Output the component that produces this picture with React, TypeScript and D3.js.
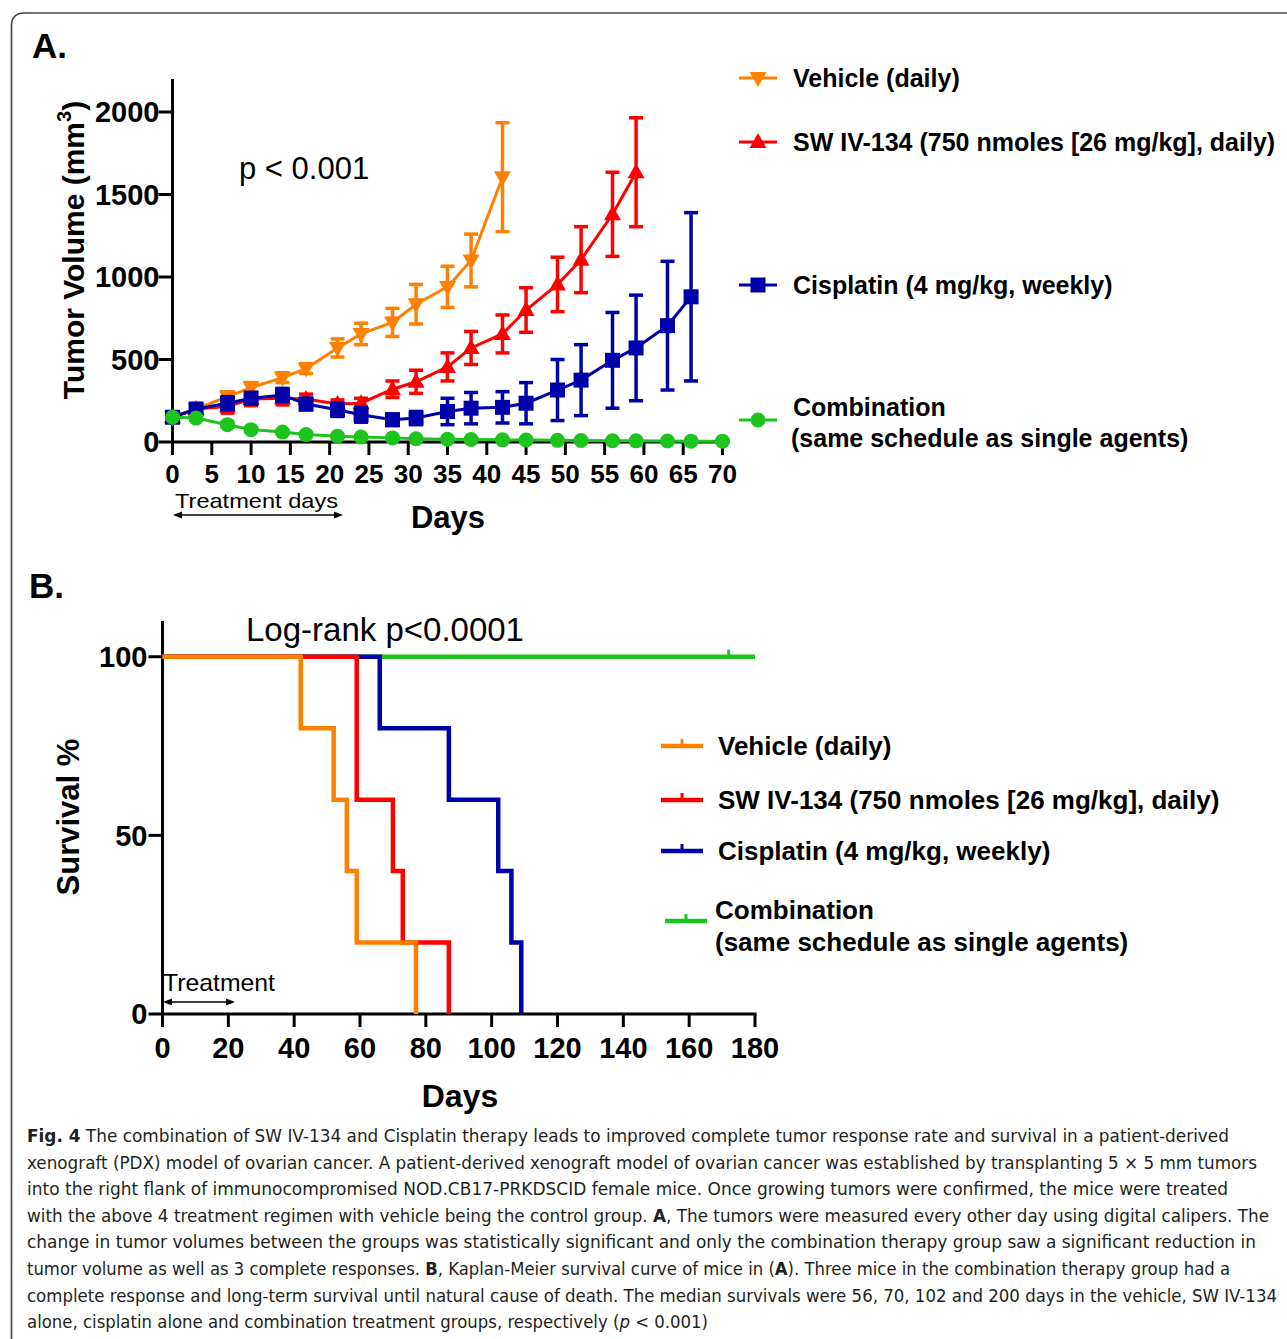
import React from "react";
import * as d3 from "d3";

// ---------- Panel A data ----------
const days = [0, 3, 7, 10, 14, 17, 21, 24, 28, 31, 35, 38, 42, 45, 49, 52, 56, 59, 63, 66, 70];
const vehicleMean = [150, 200, 275, 330, 390, 445, 570, 655, 725, 835, 940, 1100, 1605];
const vehicleErr = [15, 25, 30, 30, 30, 30, 55, 65, 85, 120, 125, 160, 330];
const swMean = [150, 200, 215, 260, 265, 260, 230, 235, 320, 365, 455, 570, 655, 800, 955, 1105, 1380, 1635];
const swErr = [15, 20, 40, 40, 40, 30, 25, 30, 50, 70, 85, 100, 115, 135, 165, 200, 255, 330];
const cisMean = [150, 200, 235, 265, 285, 230, 195, 165, 135, 145, 185, 205, 210, 235, 315, 375, 495, 570, 705, 880];
const cisErr = [15, 25, 40, 35, 40, 35, 40, 45, 35, 40, 80, 95, 95, 125, 185, 215, 290, 320, 390, 510];
const comboMean = [150, 145, 105, 75, 60, 45, 35, 30, 25, 20, 17, 15, 13, 12, 10, 9, 8, 7, 6, 5, 5];
const comboErr = [10, 12, 15, 12, 10, 8, 6, 5, 5, 4, 4, 3, 3, 3, 2, 2, 2, 2, 2, 2, 2];
const xTicksA = [0, 5, 10, 15, 20, 25, 30, 35, 40, 45, 50, 55, 60, 65, 70];
const yTicksA = [0, 500, 1000, 1500, 2000];

// ---------- Panel B data ----------
const vehSurvT = [0, 42, 52, 56, 59, 77];
const vehSurvS = [100, 80, 60, 40, 20, 0];
const swSurvT = [0, 59, 70, 73, 87];
const swSurvS = [100, 60, 40, 20, 0];
const cisSurvT = [0, 66, 87, 102, 106, 109];
const cisSurvS = [100, 80, 60, 40, 20, 0];
const comboSurvT = [0, 180];
const comboSurvS = [100, 100];
const comboCensor = [172];
const xTicksB = [0, 20, 40, 60, 80, 100, 120, 140, 160, 180];
const yTicksB = [0, 50, 100];

const seriesNames = [
  "Vehicle (daily)",
  "SW IV-134 (750 nmoles [26 mg/kg], daily)",
  "Cisplatin (4 mg/kg, weekly)",
  "Combination",
];
const comboSub = "(same schedule as single agents)";

const ORANGE = "#FF8000";
const RED = "#FF0000";
const BLUE = "#0000AA";
const GREEN = "#1DC41D";

type Seg = [string, string?];
const captionLines: Seg[][] = [
  [["Fig. 4", "b"], ["  The combination of SW IV-134 and Cisplatin therapy leads to improved complete tumor response rate and survival in a patient-derived"]],
  [["xenograft (PDX) model of ovarian cancer. A patient-derived xenograft model of ovarian cancer was established by transplanting 5 × 5 mm tumors"]],
  [["into the right flank of immunocompromised NOD.CB17-PRKDSCID female mice. Once growing tumors were confirmed, the mice were treated"]],
  [["with the above 4 treatment regimen with vehicle being the control group. "], ["A", "b"], [", The tumors were measured every other day using digital calipers. The"]],
  [["change in tumor volumes between the groups was statistically significant and only the combination therapy group saw a significant reduction in"]],
  [["tumor volume as well as 3 complete responses. "], ["B", "b"], [", Kaplan-Meier survival curve of mice in ("], ["A", "b"], ["). Three mice in the combination therapy group had a"]],
  [["complete response and long-term survival until natural cause of death. The median survivals were 56, 70, 102 and 200 days in the vehicle, SW IV-134"]],
  [["alone, cisplatin alone and combination treatment groups, respectively ("], ["p", "i"], [" < 0.001)"]],
];
const captionWidths = [1202, 1230, 1201, 1242, 1229, 1203, 1250, 681];

const FONT = "'Liberation Sans', Arial, Helvetica, sans-serif";

function marker(shape: string, cx: number, cy: number, color: string, key?: string) {
  if (shape === "down") {
    return <path key={key} d={`M${cx - 8.5},${cy - 6} L${cx + 8.5},${cy - 6} L${cx},${cy + 9} Z`} fill={color} />;
  }
  if (shape === "up") {
    return <path key={key} d={`M${cx - 8.5},${cy + 6} L${cx + 8.5},${cy + 6} L${cx},${cy - 9} Z`} fill={color} />;
  }
  if (shape === "square") {
    return <rect key={key} x={cx - 7.5} y={cy - 7.5} width={15} height={15} fill={color} />;
  }
  return <circle key={key} cx={cx} cy={cy} r={7.5} fill={color} />;
}

export default function App() {
  // Panel A scales
  const xA = d3.scaleLinear().domain([0, 70]).range([172.5, 722.5]);
  const yA = d3.scaleLinear().domain([0, 2200]).range([442, 79]);
  // Panel B scales
  const xB = d3.scaleLinear().domain([0, 180]).range([162.5, 755]);
  const yB = d3.scaleLinear().domain([0, 110]).range([1014, 621]);

  const seriesA = [
    { mean: vehicleMean, err: vehicleErr, color: ORANGE, shape: "down" },
    { mean: swMean, err: swErr, color: RED, shape: "up" },
    { mean: cisMean, err: cisErr, color: BLUE, shape: "square" },
    { mean: comboMean, err: comboErr, color: GREEN, shape: "circle" },
  ];

  const lineA = d3
    .line<[number, number]>()
    .x((d) => xA(d[0]))
    .y((d) => yA(d[1]));

  const lineB = d3
    .line<[number, number]>()
    .x((d) => xB(d[0]))
    .y((d) => yB(d[1]))
    .curve(d3.curveStepAfter);

  const seriesB = [
    { t: comboSurvT, s: comboSurvS, color: GREEN },
    { t: cisSurvT, s: cisSurvS, color: BLUE },
    { t: swSurvT, s: swSurvS, color: RED },
    { t: vehSurvT, s: vehSurvS, color: ORANGE },
  ];

  const legendAY = [78, 142, 285, 420];
  const legendATextY = [78, 142, 285, 407];
  const legendBY = [746, 800, 851, 921];
  const legendBTextY = [746, 800, 851, 910];
  const legendColors = [ORANGE, RED, BLUE, GREEN];
  const legendShapes = ["down", "up", "square", "circle"];

  const arrowHead = (x: number, y: number, dir: number) =>
    `M${x},${y} L${x - dir * 9},${y - 3.5} L${x - dir * 9},${y + 3.5} Z`;

  return (
    <svg
      width={1287}
      height={1339}
      style={{ position: "absolute", left: 0, top: 0, display: "block", background: "#fff" }}
      fontFamily={FONT}
    >
      <rect x={0} y={0} width={1287} height={1339} fill="#fff" />
      {/* frame */}
      <path d="M11.5,1345 L11.5,26 Q11.5,13 24.5,13 L1300,13" fill="none" stroke="#444" strokeWidth={1.6} />

      {/* ================= Panel A ================= */}
      <text x={32} y={58} fontSize={35} fontWeight="bold">A.</text>

      {/* axes */}
      <line x1={xA(0)} y1={yA(2200)} x2={xA(0)} y2={yA(0) + 1.5} stroke="#000" strokeWidth={3} />
      <line x1={xA(0) - 1.5} y1={yA(0)} x2={xA(70) + 2} y2={yA(0)} stroke="#000" strokeWidth={3} />
      {yTicksA.map((t) => (
        <g key={"ya" + t}>
          <line x1={xA(0) - 14} x2={xA(0)} y1={yA(t)} y2={yA(t)} stroke="#000" strokeWidth={3} />
          <text x={xA(0) - 13} y={yA(t)} dy="0.36em" textAnchor="end" fontSize={29} fontWeight="bold">
            {t}
          </text>
        </g>
      ))}
      {xTicksA.map((t) => (
        <g key={"xa" + t}>
          <line x1={xA(t)} x2={xA(t)} y1={yA(0)} y2={yA(0) + 13} stroke="#000" strokeWidth={3} />
          <text
            x={xA(t)}
            y={483}
            textAnchor="middle"
            fontSize={26}
            fontWeight="bold"
            textLength={t >= 10 ? 29 : undefined}
            lengthAdjust="spacingAndGlyphs"
          >
            {t}
          </text>
        </g>
      ))}
      <text
        transform="translate(84,250) rotate(-90)"
        textAnchor="middle"
        fontSize={30}
        fontWeight="bold"
      >
        Tumor Volume (mm
        <tspan fontSize={20} dy={-13}>3</tspan>
        <tspan dy={13}>)</tspan>
      </text>
      <text x={448} y={528} textAnchor="middle" fontSize={31} fontWeight="bold">Days</text>
      <text x={239} y={179} fontSize={31}>p &lt; 0.001</text>
      <text x={175} y={508} fontSize={21} textLength={163} lengthAdjust="spacingAndGlyphs">Treatment days</text>
      <line x1={176} x2={340} y1={515} y2={515} stroke="#000" strokeWidth={1.5} />
      <path d={arrowHead(173, 515, -1)} fill="#000" />
      <path d={arrowHead(343, 515, 1)} fill="#000" />

      {/* series lines, error bars, markers */}
      {seriesA.map((s, si) => {
        const pts: [number, number][] = s.mean.map((m, i) => [days[i], m]);
        return (
          <g key={"sa" + si}>
            <path d={lineA(pts) || ""} fill="none" stroke={s.color} strokeWidth={3} />
            {s.mean.map((m, i) => {
              const x = xA(days[i]);
              const y1 = yA(m + s.err[i]);
              const y2 = yA(m - s.err[i]);
              return (
                <g key={i}>
                  <line x1={x} x2={x} y1={y1} y2={y2} stroke={s.color} strokeWidth={3.5} />
                  <line x1={x - 7} x2={x + 7} y1={y1} y2={y1} stroke={s.color} strokeWidth={3.5} />
                  <line x1={x - 7} x2={x + 7} y1={y2} y2={y2} stroke={s.color} strokeWidth={3.5} />
                </g>
              );
            })}
            {s.mean.map((m, i) => marker(s.shape, xA(days[i]), yA(m), s.color, "m" + i))}
          </g>
        );
      })}

      {/* legend A */}
      {seriesNames.map((n, i) => (
        <g key={"la" + i}>
          <line x1={739} x2={777} y1={legendAY[i]} y2={legendAY[i]} stroke={legendColors[i]} strokeWidth={3} />
          {marker(legendShapes[i], 758, legendAY[i], legendColors[i])}
          <text x={793} y={legendATextY[i]} dy="0.36em" fontSize={25} fontWeight="bold">
            {n}
          </text>
        </g>
      ))}
      <text x={791} y={438} dy="0.36em" fontSize={25} fontWeight="bold">{comboSub}</text>

      {/* ================= Panel B ================= */}
      <text x={29} y={598} fontSize={35} fontWeight="bold">B.</text>

      <line x1={xB(0)} y1={621} x2={xB(0)} y2={yB(0) + 1.5} stroke="#000" strokeWidth={3} />
      <line x1={xB(0) - 1.5} y1={yB(0)} x2={xB(180) + 1.5} y2={yB(0)} stroke="#000" strokeWidth={3} />
      {yTicksB.map((t) => (
        <g key={"yb" + t}>
          <line x1={xB(0) - 14} x2={xB(0)} y1={yB(t)} y2={yB(t)} stroke="#000" strokeWidth={3} />
          <text x={xB(0) - 15} y={yB(t)} dy="0.36em" textAnchor="end" fontSize={29} fontWeight="bold">
            {t}
          </text>
        </g>
      ))}
      {xTicksB.map((t) => (
        <g key={"xb" + t}>
          <line x1={xB(t)} x2={xB(t)} y1={yB(0)} y2={yB(0) + 13} stroke="#000" strokeWidth={3} />
          <text x={xB(t)} y={1058} textAnchor="middle" fontSize={29} fontWeight="bold">
            {t}
          </text>
        </g>
      ))}
      <text
        transform="translate(79,817) rotate(-90)"
        textAnchor="middle"
        fontSize={31}
        fontWeight="bold"
      >
        Survival %
      </text>
      <text x={460} y={1107} textAnchor="middle" fontSize={32} fontWeight="bold">Days</text>
      <text x={246} y={641} fontSize={33}>Log-rank p&lt;0.0001</text>
      <text x={163} y={991} fontSize={24} textLength={112} lengthAdjust="spacingAndGlyphs">Treatment</text>
      <line x1={166} x2={232} y1={1002} y2={1002} stroke="#000" strokeWidth={1.5} />
      <path d={arrowHead(163, 1002, -1)} fill="#000" />
      <path d={arrowHead(235, 1002, 1)} fill="#000" />

      {seriesB.map((s, si) => {
        const pts: [number, number][] = s.t.map((t, i) => [t, s.s[i]]);
        return (
          <path
            key={"sb" + si}
            d={lineB(pts) || ""}
            fill="none"
            stroke={s.color}
            strokeWidth={4.5}
            strokeLinejoin="miter"
          />
        );
      })}
      {comboCensor.map((c) => (
        <line key={"c" + c} x1={xB(c)} x2={xB(c)} y1={yB(100)} y2={yB(100) - 7} stroke={GREEN} strokeWidth={3} />
      ))}

      {/* legend B */}
      {seriesNames.map((n, i) => {
        const x0 = i === 3 ? 665 : 661;
        const ly = legendBY[i];
        return (
          <g key={"lb" + i}>
            <line x1={x0} x2={x0 + 42} y1={ly} y2={ly} stroke={legendColors[i]} strokeWidth={4.5} />
            <line x1={x0 + 21} x2={x0 + 21} y1={ly} y2={ly - 7} stroke={legendColors[i]} strokeWidth={3} />
            <text x={i === 3 ? 715 : 718} y={legendBTextY[i]} dy="0.36em" fontSize={26} fontWeight="bold">
              {n}
            </text>
          </g>
        );
      })}
      <text x={715} y={942} dy="0.36em" fontSize={26} fontWeight="bold">{comboSub}</text>

      {/* ================= Caption ================= */}
      {captionLines.map((segs, li) => (
        <text
          key={"cap" + li}
          x={27}
          y={1142 + li * 26.6}
          fontSize={18}
          fill="#231F20"
          fontFamily="'Liberation Sans Narrow', 'DejaVu Sans Condensed', 'Open Sans', sans-serif"
          textLength={captionWidths[li]}
          lengthAdjust="spacingAndGlyphs"
        >
          {segs.map((sg, si) => (
            <tspan
              key={si}
              fontWeight={sg[1] === "b" ? "bold" : "normal"}
              fontStyle={sg[1] === "i" ? "italic" : "normal"}
            >
              {sg[0]}
            </tspan>
          ))}
        </text>
      ))}
    </svg>
  );
}
